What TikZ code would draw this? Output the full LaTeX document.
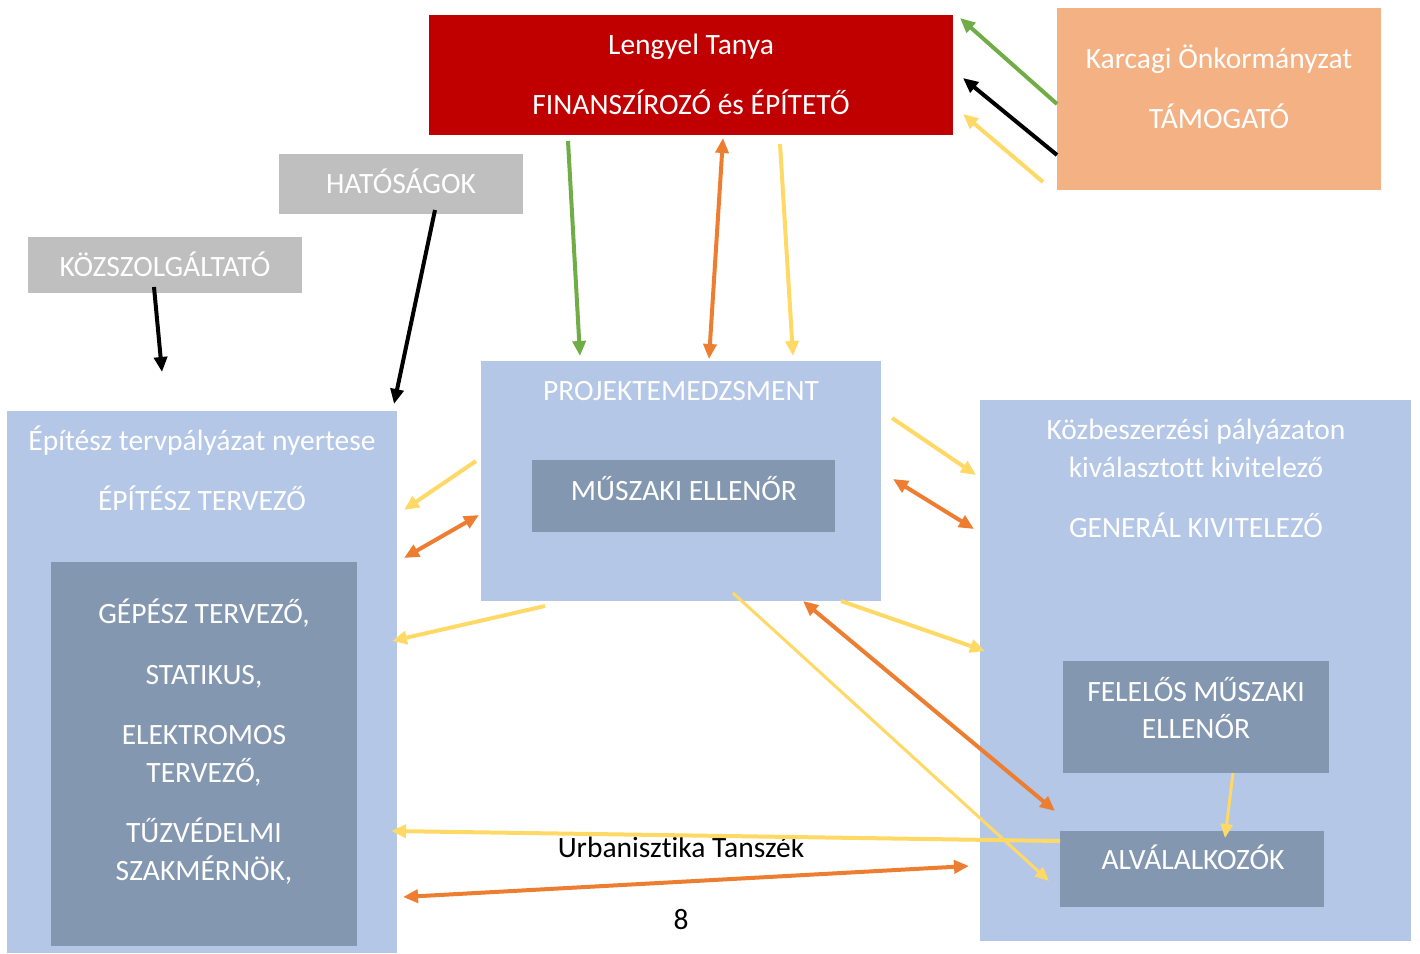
\documentclass[tikz,border=0pt]{standalone}
\usepackage{fontspec}
\setmainfont{Carlito}[Ligatures=NoCommon]
\usetikzlibrary{arrows.meta}
\definecolor{cred}{HTML}{C00000}
\definecolor{corg}{HTML}{F4B183}
\definecolor{cgray}{HTML}{BFBFBF}
\definecolor{clb}{HTML}{B4C7E7}
\definecolor{cdb}{HTML}{8497B0}
\definecolor{ayel}{HTML}{FFD966}
\definecolor{aorg}{HTML}{ED7D31}
\definecolor{agrn}{HTML}{70AD47}
\tikzset{
  boxx/.style={anchor=north west, inner sep=0pt, outer sep=0pt},
  txt/.style={anchor=base, inner sep=0pt, text=white, font=\fontsize{29.5}{35}\selectfont},
  btxt/.style={anchor=base, inner sep=0pt, text=black, font=\fontsize{29.5}{35}\selectfont},
  con/.style={line width=4pt, -{Triangle[length=15pt,width=13pt]}},
  dcon/.style={line width=4pt, {Triangle[length=15pt,width=13pt]}-{Triangle[length=15pt,width=13pt]}},
  thin/.style={line width=3pt, -{Triangle[length=14pt,width=12pt]}}
}
\begin{document}
\begin{tikzpicture}[x=1pt,y=-1pt]
\useasboundingbox (0,0) rectangle (1420,953);
% boxes
\node[boxx, fill=cred, minimum width=524pt, minimum height=120pt] (fin) at (429,15) {};
\node[boxx, fill=corg, minimum width=324pt, minimum height=182pt] (kar) at (1057,8) {};
\node[boxx, fill=cgray, minimum width=244pt, minimum height=60pt] (hat) at (279,154) {};
\node[boxx, fill=cgray, minimum width=274pt, minimum height=56pt] (koz) at (28,237) {};
\node[boxx, fill=clb, minimum width=390pt, minimum height=542pt] (epi) at (7,411) {};
\node[boxx, fill=cdb, minimum width=306pt, minimum height=384pt] (gep) at (51,562) {};
\node[boxx, fill=clb, minimum width=400pt, minimum height=240pt] (pro) at (481,361) {};
\node[boxx, fill=cdb, minimum width=303pt, minimum height=72pt] (mus) at (532,460) {};
\node[boxx, fill=clb, minimum width=431pt, minimum height=541pt] (gen) at (980,400) {};
\node[boxx, fill=cdb, minimum width=266pt, minimum height=112pt] (fel) at (1063,661) {};
\node[boxx, fill=cdb, minimum width=264pt, minimum height=76pt] (alv) at (1060,831) {};
% texts
\node[txt] (t1) at (691,54) {Lengyel Tanya};
\node[txt] (t2) at (691,114) {FINANSZÍROZÓ és ÉPÍTETŐ};
\node[txt] (t3) at (1219,68) {Karcagi Önkormányzat};
\node[txt] (t4) at (1219,128) {TÁMOGATÓ};
\node[txt] (t5) at (401,193) {HATÓSÁGOK};
\node[txt] (t6) at (165,276) {KÖZSZOLGÁLTATÓ};
\node[txt] (t7) at (202,450) {Építész tervpályázat nyertese};
\node[txt] (t8) at (202,510) {ÉPÍTÉSZ TERVEZŐ};
\node[txt] (t9) at (204,623) {GÉPÉSZ TERVEZŐ,};
\node[txt] (t10) at (204,684) {STATIKUS,};
\node[txt] (t11) at (204,744) {ELEKTROMOS};
\node[txt] (t12) at (204,782) {TERVEZŐ,};
\node[txt] (t13) at (204,842) {TŰZVÉDELMI};
\node[txt] (t14) at (204,880) {SZAKMÉRNÖK,};
\node[txt] (t15) at (681,400) {PROJEKTEMEDZSMENT};
\node[txt] (t16) at (684,500) {MŰSZAKI ELLENŐR};
\node[txt] (t17) at (1196,439) {Közbeszerzési pályázaton};
\node[txt] (t18) at (1196,477) {kiválasztott kivitelező};
\node[txt] (t19) at (1196,537) {GENERÁL KIVITELEZŐ};
\node[txt] (t20) at (1196,701) {FELELŐS MŰSZAKI};
\node[txt] (t21) at (1196,738) {ELLENŐR};
\node[txt] (t22) at (1193,869) {ALVÁLALKOZÓK};
\node[btxt] (t23) at (681,857) {Urbanisztika Tanszék};
\node[btxt] (t24) at (681,929) {8};
% connector end points
\coordinate (a1s) at (568,141);  \coordinate (a1e) at (580,356);
\coordinate (a2s) at (723,138);  \coordinate (a2e) at (709,359);
\coordinate (a3s) at (780,144);  \coordinate (a3e) at (793,356);
\coordinate (a4s) at (1057,104); \coordinate (a4e) at (960,18);
\coordinate (a5s) at (1057,155); \coordinate (a5e) at (963,78);
\coordinate (a6s) at (1043,182); \coordinate (a6e) at (963,114);
\coordinate (a7s) at (154,287);  \coordinate (a7e) at (162,372);
\coordinate (a8s) at (435,210);  \coordinate (a8e) at (394,404);
\coordinate (a9s) at (476,461);  \coordinate (a9e) at (404,510);
\coordinate (a10s) at (479,515); \coordinate (a10e) at (404,558);
\coordinate (a11s) at (545,606); \coordinate (a11e) at (392,641);
\coordinate (a12s) at (892,418); \coordinate (a12e) at (976,475);
\coordinate (a13s) at (893,479); \coordinate (a13e) at (974,529);
\coordinate (a14s) at (841,601); \coordinate (a14e) at (985,651);
\coordinate (a15s) at (733,593); \coordinate (a15e) at (1049,881);
\coordinate (a16s) at (803,601); \coordinate (a16e) at (1055,811);
\coordinate (a17s) at (1060,841); \coordinate (a17e) at (391,831);
\coordinate (a18s) at (403,897); \coordinate (a18e) at (969,866);
\coordinate (a19s) at (1233,773); \coordinate (a19e) at (1225,838);
% connectors
\draw[con, agrn] (a1s) -- (a1e);
\draw[dcon, aorg] (a2s) -- (a2e);
\draw[con, ayel] (a3s) -- (a3e);
\draw[con, agrn] (a4s) -- (a4e);
\draw[con, black] (a5s) -- (a5e);
\draw[con, ayel] (a6s) -- (a6e);
\draw[con, black] (a7s) -- (a7e);
\draw[con, black] (a8s) -- (a8e);
\draw[con, ayel] (a9s) -- (a9e);
\draw[dcon, aorg] (a10s) -- (a10e);
\draw[con, ayel] (a11s) -- (a11e);
\draw[con, ayel] (a12s) -- (a12e);
\draw[dcon, aorg] (a13s) -- (a13e);
\draw[con, ayel] (a14s) -- (a14e);
\draw[thin, ayel] (a15s) -- (a15e);
\draw[dcon, aorg] (a16s) -- (a16e);
\draw[con, ayel] (a17s) -- (a17e);
\draw[dcon, aorg] (a18s) -- (a18e);
\draw[thin, ayel] (a19s) -- (a19e);
\end{tikzpicture}
\end{document}
